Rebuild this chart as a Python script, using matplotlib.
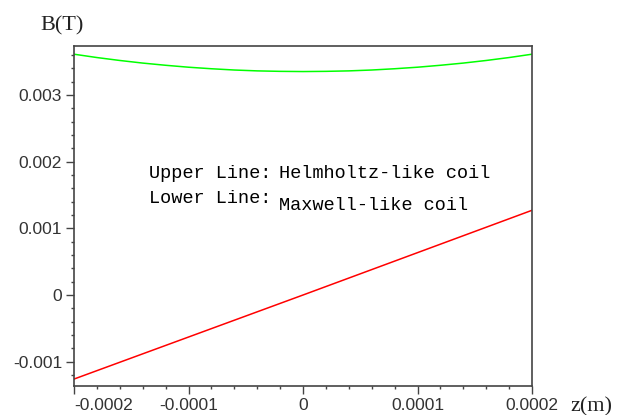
import matplotlib.pyplot as plt
import numpy as np

# z positions (m) and field values (T)
z = [-0.0002, -0.00018, -0.00016, -0.00014, -0.00012, -0.0001, -0.00008,
     -0.00006, -0.00004, -0.00002, 0.0, 0.00002, 0.00004, 0.00006,
     0.00008, 0.0001, 0.00012, 0.00014, 0.00016, 0.00018, 0.0002]
b_helmholtz = [0.00361, 0.00356, 0.003516, 0.003477, 0.003444, 0.003415,
               0.003392, 0.003373, 0.00336, 0.003353, 0.00335, 0.003353,
               0.00336, 0.003373, 0.003392, 0.003415, 0.003444, 0.003477,
               0.003516, 0.00356, 0.00361]
z_maxwell = [-0.0002, 0.0, 0.0002]
b_maxwell = [-0.00126, 0.0, 0.00127]

xticks = [-0.0002, -0.0001, 0, 0.0001, 0.0002]
xlabels = ["-0.0002", "-0.0001", "0", "0.0001", "0.0002"]
yticks = [-0.001, 0, 0.001, 0.002, 0.003]
ylabels = ["-0.001", "0", "0.001", "0.002", "0.003"]

fig = plt.figure(figsize=(6.24, 4.15), dpi=100)
ax = fig.add_axes([74/624, 29/415, 458/624, 340/415])

ax.plot(z, b_helmholtz, color="#00ff00", linewidth=1.1)
ax.plot(z_maxwell, b_maxwell, color="#ff0000", linewidth=1.1)

ax.set_xlim(-0.0002, 0.0002)
ax.set_ylim(-0.001364, 0.003733)

ax.set_xticks(xticks)
ax.set_xticklabels(xlabels)
ax.set_yticks(yticks)
ax.set_yticklabels(ylabels)
ax.set_xticks(np.arange(-0.0002, 0.00020001, 0.00002), minor=True)
ax.set_yticks(np.arange(-0.0012, 0.0037, 0.0002), minor=True)

for lab in ax.get_xticklabels() + ax.get_yticklabels():
    lab.set_family("Liberation Sans")
    lab.set_fontsize(12.5)
    lab.set_color("#333333")
# first x label sits to the right of its tick, like the original
ax.get_xticklabels()[0].set_ha("left")

ax.tick_params(which="major", length=5.5, width=1, color="#444444", pad=3)
ax.tick_params(which="minor", length=2.5, width=1, color="#444444")
for s in ax.spines.values():
    s.set_color("#444444")
    s.set_linewidth(1.2)

# labels and annotations
fig.text(40/624, 1 - 30/415, "B(T)", family="Liberation Serif", fontsize=16,
         color="#222222")
fig.text(570/624, 1 - 411/415, "z(m)", family="Liberation Serif", fontsize=16,
         color="#222222")

ax.text(-0.0001345, 0.001754, "Upper Line:", family="Liberation Mono",
        fontsize=13.4, color="black")
ax.text(-0.000021, 0.001754, "Helmholtz-like coil", family="Liberation Mono",
        fontsize=13.4, color="black")
ax.text(-0.0001345, 0.00138, "Lower Line:", family="Liberation Mono",
        fontsize=13.4, color="black")
ax.text(-0.000021, 0.001274, "Maxwell-like coil", family="Liberation Mono",
        fontsize=13.4, color="black")

plt.savefig("out.png", dpi=100)
